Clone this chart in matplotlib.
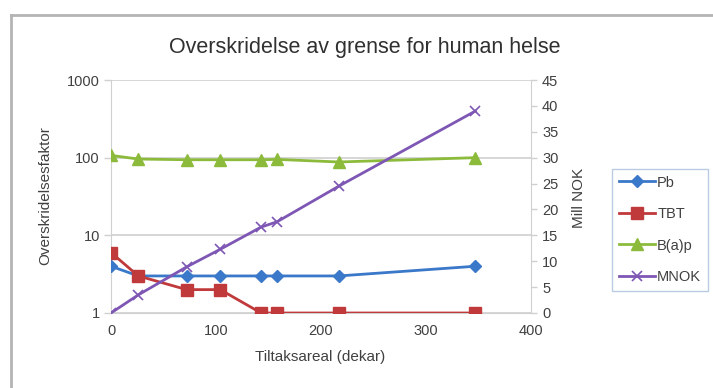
import matplotlib
matplotlib.use("Agg")
import matplotlib.pyplot as plt
from matplotlib.lines import Line2D

plt.rcParams['font.family'] = ['Liberation Sans', 'DejaVu Sans']

# Data
areal = [0, 26, 72, 104, 143, 158, 217, 347]
pb = [4, 3, 3, 3, 3, 3, 3, 4]
tbt = [6, 3, 2, 2, 1, 1, 1, 1]
bap = [107, 96, 94, 94, 94, 95, 88, 100]
mnok = [0, 3.5, 8.9, 12.3, 16.6, 17.6, 24.5, 39]

x_ticks = [0, 100, 200, 300, 400]
left_ticks = [1, 10, 100, 1000]
right_ticks = list(range(0, 50, 5))

W, H = 713, 388
fig = plt.figure(figsize=(W / 100, H / 100), dpi=100)
fig.patch.set_facecolor('white')

# Outer chart frame (top and left edges)
frame_col = '#b4b4b4'
fig.add_artist(Line2D([11 / W, 1], [1 - 15 / H, 1 - 15 / H], color=frame_col, lw=2.0))
fig.add_artist(Line2D([11 / W, 11 / W], [0, 1 - 15 / H], color=frame_col, lw=2.0))

L, R, T, B = 111, 531, 80, 313
ax = fig.add_axes([L / W, 1 - B / H, (R - L) / W, (B - T) / H])
ax2 = ax.twinx()

txt = '#404040'
grid_col = '#d0d0d0'
tick_fs = 10.5

ax.set_yscale('log')
ax.set_ylim(1, 1000)
ax.set_xlim(0, 400)
ax.set_yticks(left_ticks)
ax.set_yticklabels([str(t) for t in left_ticks])
ax.minorticks_off()
ax.set_xticks(x_ticks)
ax.set_xticklabels([str(t) for t in x_ticks])
ax.yaxis.grid(True, color=grid_col, lw=1.2)
ax.set_axisbelow(True)

ax2.set_ylim(0, 45)
ax2.set_yticks(right_ticks)

for a in (ax, ax2):
    for s in a.spines.values():
        s.set_visible(False)
ax.spines['left'].set_visible(True)
ax.spines['left'].set_color(grid_col)
ax.spines['bottom'].set_visible(True)
ax.spines['bottom'].set_color(grid_col)
ax2.spines['right'].set_visible(True)
ax2.spines['right'].set_color(grid_col)

ax.tick_params(axis='y', colors=grid_col, labelcolor=txt, labelsize=tick_fs, length=5, width=1, pad=3)
ax.tick_params(axis='x', colors=grid_col, labelcolor=txt, labelsize=tick_fs, length=0, pad=8)
ax2.tick_params(axis='y', colors=grid_col, labelcolor=txt, labelsize=tick_fs, length=4, width=1, pad=4)

c_pb = '#3a78c9'
c_tbt = '#c0393b'
c_bap = '#8cbb3c'
c_mnok = '#7e57b5'

ax.plot(areal, pb, color=c_pb, lw=2, marker='D', ms=6, label='Pb', zorder=4)
ax.plot(areal, tbt, color=c_tbt, lw=2, marker='s', ms=8, label='TBT', zorder=4)
ax.plot(areal, bap, color=c_bap, lw=2, marker='^', ms=8, label='B(a)p', zorder=4)
ax2.plot(areal, mnok, color=c_mnok, lw=2, marker='x', ms=7, mew=1.2, label='MNOK', zorder=4)

# Axis titles
fig.text(320 / W, 1 - 357 / H, 'Tiltaksareal (dekar)', ha='center', va='center',
         fontsize=11, color=txt)
fig.text(45 / W, 1 - 196 / H, 'Overskridelsesfaktor', ha='center', va='center',
         rotation=90, fontsize=11, color=txt)
fig.text(579 / W, 1 - 198 / H, 'Mill NOK', ha='center', va='center',
         rotation=90, fontsize=11, color=txt)

fig.text(365 / W, 1 - 47 / H, 'Overskridelse av grense for human helse',
         ha='center', va='center', fontsize=15.5, color='#303030')

handles = ax.get_lines() + ax2.get_lines()
leg = fig.legend(handles, [h.get_label() for h in handles],
                 loc='upper left', bbox_to_anchor=(612 / W, 1 - 169 / H),
                 frameon=True, fontsize=10.5, labelspacing=1.2,
                 handlelength=2.5, borderpad=0.45, handletextpad=0.15,
                 borderaxespad=0, fancybox=False, edgecolor='#a8c0dc')
for t in leg.get_texts():
    t.set_color(txt)

fig.savefig('out.png', dpi=100, facecolor='white')
